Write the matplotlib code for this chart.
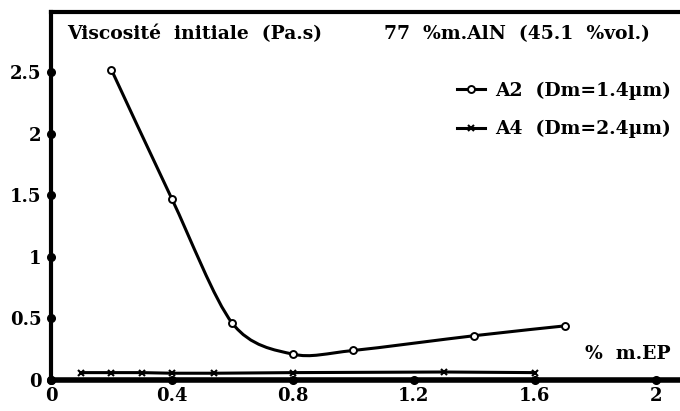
import matplotlib.pyplot as plt
from matplotlib.path import Path
from matplotlib.patches import PathPatch
from matplotlib.lines import Line2D
import numpy as np

plt.rcParams['font.family'] = ['DejaVu Serif']
plt.rcParams['font.weight'] = 'bold'

# données
x_a2 = [0.2, 0.4, 0.6, 0.8, 1.0, 1.4, 1.7]
y_a2 = [2.52, 1.47, 0.46, 0.21, 0.24, 0.36, 0.44]

x_a4 = [0.1, 0.2, 0.3, 0.4, 0.54, 0.8, 1.3, 1.6]
y_a4 = [0.06, 0.06, 0.06, 0.055, 0.055, 0.06, 0.065, 0.06]

xticks = [0, 0.4, 0.8, 1.2, 1.6, 2]
xtick_labels = ['0', '0.4', '0.8', '1.2', '1.6', '2']
yticks = [0, 0.5, 1, 1.5, 2, 2.5]
ytick_labels = ['0', '0.5', '1', '1.5', '2', '2.5']


def smooth_path(xs, ys, t=0.45):
    # Catmull-Rom -> courbes de Bezier (tracées par matplotlib)
    pts = np.column_stack([xs, ys])
    verts = [pts[0]]
    codes = [Path.MOVETO]
    n = len(pts)
    for i in range(n - 1):
        p0 = pts[i - 1] if i > 0 else pts[i]
        p1 = pts[i]
        p2 = pts[i + 1]
        p3 = pts[i + 2] if i + 2 < n else pts[i + 1]
        c1 = p1 + (p2 - p0) * t / 3
        c2 = p2 - (p3 - p1) * t / 3
        verts += [c1, c2, p2]
        codes += [Path.CURVE4] * 3
    return Path(verts, codes)


fig = plt.figure(figsize=(6.8, 4.11), dpi=100)
ax = fig.add_axes([51 / 680, 31 / 411, 1 - 51 / 680, (380 - 12) / 411])
ax.set_xlim(0, 2.08)
ax.set_ylim(0, 2.99)

# courbe A2 lissée
ax.add_patch(PathPatch(smooth_path(x_a2, y_a2), facecolor='none',
                       edgecolor='black', lw=2.2))
ax.plot(x_a2, y_a2, ls='none', marker='o', ms=5, mfc='white', mec='black',
        mew=1.4)

# A4
ax.plot(x_a4, y_a4, color='black', lw=2.2, marker='x', ms=4, mew=1.5)

for s in ['top', 'left']:
    ax.spines[s].set_linewidth(3)
ax.spines['bottom'].set_linewidth(4)
ax.spines['right'].set_visible(False)

ax.set_xticks(xticks)
ax.set_xticklabels(xtick_labels)
ax.set_yticks(yticks)
ax.set_yticklabels(ytick_labels)
ax.tick_params(length=0, labelsize=13, pad=5)
ax.tick_params(axis='y', pad=7)

# points de graduation
ax.plot(xticks, [0] * len(xticks), ls='none', marker='o', ms=5.5,
        color='black', clip_on=False)
ax.plot([0] * len(yticks), yticks, ls='none', marker='o', ms=5.5,
        color='black', clip_on=False)

ax.text(0.025, 0.94, 'Viscosit\u00e9  initiale  (Pa.s)', transform=ax.transAxes,
        fontsize=13.5, fontweight='bold', va='center')
ax.text(0.53, 0.94, '77  %m.AlN  (45.1  %vol.)', transform=ax.transAxes,
        fontsize=13.5, fontweight='bold', va='center')
ax.text(0.985, 0.07, '%  m.EP', transform=ax.transAxes,
        fontsize=13.5, fontweight='bold', va='center', ha='right')

handles = [
    Line2D([], [], color='black', lw=2.2, marker='o', ms=5, mfc='white',
           mec='black', mew=1.4),
    Line2D([], [], color='black', lw=2.2, marker='x', ms=4, mew=1.5),
]
labels = ['A2  (Dm=1.4\u00b5m)', 'A4  (Dm=2.4\u00b5m)']
ax.legend(handles, labels, loc='upper left', bbox_to_anchor=(0.634, 0.832),
          frameon=False, fontsize=13.5, handlelength=1.5, handletextpad=0.5,
          labelspacing=1.1, borderaxespad=0)

fig.savefig('out.png', dpi=100)
